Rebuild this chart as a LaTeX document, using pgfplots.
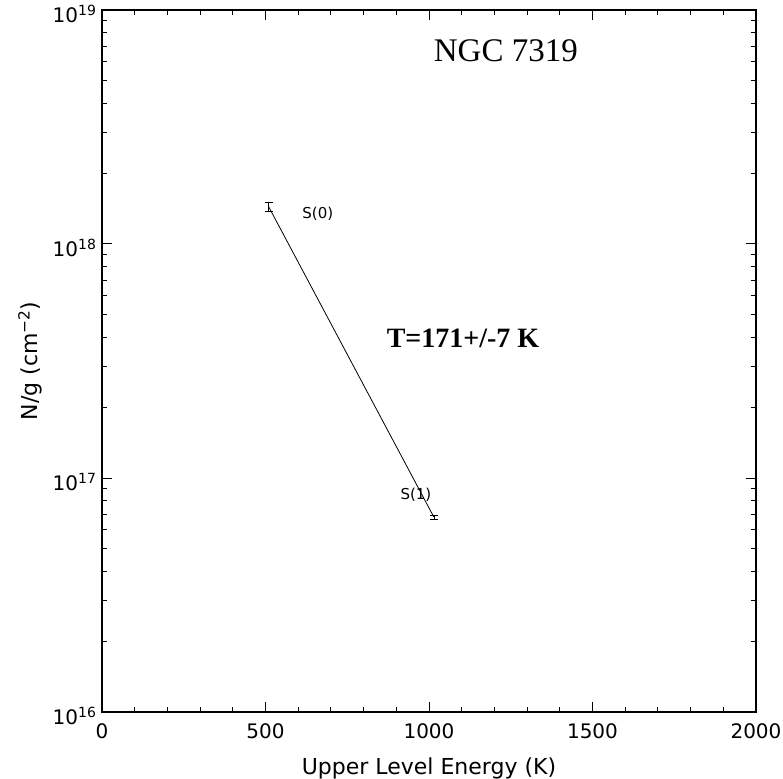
\documentclass[border=0pt]{standalone}
\usepackage{fontspec}
\setmainfont{DejaVu Sans}
\newfontfamily\seriffont{Liberation Serif}
\usepackage{pgfplots}
\pgfplotsset{compat=1.18}
\begin{document}
\begin{tikzpicture}
\path[use as bounding box] (-102pt,-66pt) rectangle (681pt,712pt);
\begin{axis}[
  at={(0pt,0pt)}, anchor=south west,
  scale only axis, width=654pt, height=702pt,
  ymode=log,
  xmin=0, xmax=2000, ymin=1e16, ymax=1e19,
  xtick={0,500,1000,1500,2000},
  xticklabels={0,500,1000,1500,2000},
  minor x tick num=4,
  ytick={1e16,1e17,1e18,1e19},
  yticklabels={10\textsuperscript{16},10\textsuperscript{17},10\textsuperscript{18},10\textsuperscript{19}},
  minor ytick={2e16,3e16,4e16,5e16,6e16,7e16,8e16,9e16,2e17,3e17,4e17,5e17,6e17,7e17,8e17,9e17,2e18,3e18,4e18,5e18,6e18,7e18,8e18,9e18},
  tick align=inside,
  major tick length=10pt, minor tick length=5pt,
  every tick/.style={black, line width=0.9pt},
  axis line style={line width=1.3pt},
  tick label style={font=\fontsize{20}{24}\selectfont},
  label style={font=\fontsize{22}{26}\selectfont},
  xlabel={Upper Level Energy (K)},
  ylabel={N/g (cm\textsuperscript{−2})},
  xticklabel style={yshift=-8pt},
  yticklabel style={xshift=-2pt, yshift=-4pt},
  xlabel style={yshift=-12pt},
  ylabel style={yshift=4pt},
  clip=false,
]
\addplot[black, line width=0.8pt, mark=none,
  error bars/.cd, y dir=both, y explicit,
  error bar style={line width=0.8pt},
  error mark options={rotate=90, mark size=4pt, line width=0.8pt}]
  table[x=x, y=y, y error=e] {
x y e
510 1.44e18 0.06e18
1015 6.8e16 0.15e16
};
\node[font=\fontsize{15}{18}\selectfont] at (axis cs:660,1.34e18) {S(0)};
\node[font=\fontsize{15}{18}\selectfont] at (axis cs:960,8.45e16) {S(1)};
\node[font=\seriffont\fontsize{33}{38}\selectfont] at (axis cs:1235,6.7e18) {NGC 7319};
\node[font=\seriffont\bfseries\fontsize{28}{33}\selectfont] at (axis cs:1104,3.96e17) {T=171+/-7 K};
\end{axis}
\end{tikzpicture}
\end{document}
